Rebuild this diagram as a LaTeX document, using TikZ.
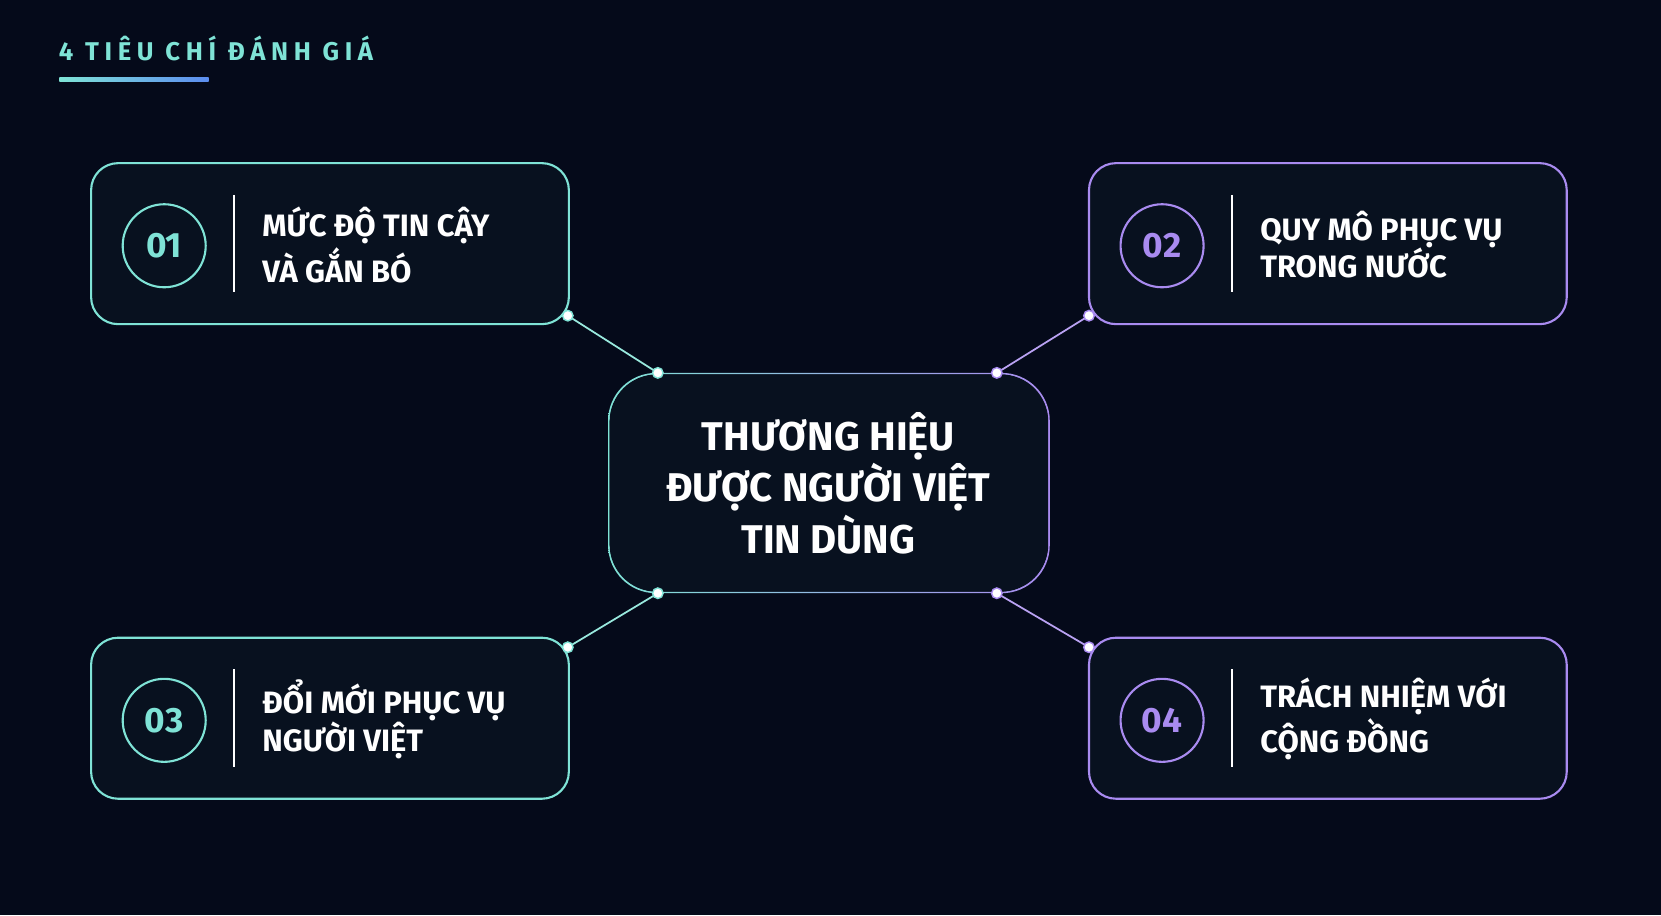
\documentclass[tikz,border=0pt]{standalone}
\usepackage{fontspec}
\setmainfont{Fira Sans}
\newfontfamily\headfont[LetterSpace=22]{Fira Sans}
\usetikzlibrary{positioning}
\definecolor{bgdark}{HTML}{050A1A}
\definecolor{boxfill}{HTML}{08111F}
\definecolor{tealc}{HTML}{7FE3D6}
\definecolor{purpc}{HTML}{A98BF0}
\definecolor{bluec}{HTML}{5C8DF0}
\tikzset{
  card/.style={draw=#1, line width=0.6pt, fill=boxfill, rounded corners=0.27cm},
  numring/.style={draw=#1, line width=0.6pt, circle, minimum size=0.83cm, inner sep=0pt,
    text=#1, font=\bfseries\fontsize{10pt}{11pt}\selectfont},
  cardtext/.style={anchor=west, align=left, text=white, font=\bfseries\fontsize{8.8pt}{10.6pt}\selectfont},
  link/.style={draw=#1!80, line width=0.5pt},
  dot/.style={fill=white, draw=#1, circle, inner sep=0pt, minimum size=3pt}
}
\begin{document}
\begin{tikzpicture}[x=0.010593cm, y=-0.010593cm]
  % background
  \fill[bgdark] (0,0) rectangle (1568,864);
  \useasboundingbox (0,0) rectangle (1568,864);

  % header
  \node[anchor=west, text=tealc, inner sep=0pt, font=\headfont\bfseries\fontsize{7.3pt}{8pt}\selectfont] (title) at (55,46) {4 TIÊU CHÍ ĐÁNH GIÁ};
  \shade[left color=tealc, right color=bluec] (56,73) rectangle (197,77);

  % cards
  \foreach \name/\x/\y/\col/\num/\txt in {
      c1/86/154/tealc/01/{MỨC ĐỘ TIN CẬY\\VÀ GẮN BÓ},
      c2/1028/154/purpc/02/{QUY MÔ PHỤC VỤ\\TRONG NƯỚC},
      c3/86/602/tealc/03/{ĐỔI MỚI PHỤC VỤ\\NGƯỜI VIỆT},
      c4/1028/602/purpc/04/{TRÁCH NHIỆM VỚI\\CỘNG ĐỒNG}} {
    \draw[card=\col] (\x,\y) rectangle ++(451,152);
    \node[numring=\col] (\name-num) at ([shift={(69,78)}]\x,\y) {\num};
    \draw[white!70, line width=0.5pt] ([shift={(135,30)}]\x,\y) -- ++(0,92);
    \node[cardtext] (\name-text) at ([shift={(150,77)}]\x,\y) {\txt};
  }

  % centre
  \shade[left color=tealc, right color=purpc, even odd rule, rounded corners=0.48cm]
    (574,352) rectangle (991,560) (575.5,353.5) rectangle (989.5,558.5);
  \fill[boxfill, rounded corners=0.47cm] (575.5,353.5) rectangle (989.5,558.5);
  \node[align=center, text=white, font=\bfseries\fontsize{11.4pt}{12.6pt}\selectfont] (hub) at (782,456)
    {THƯƠNG HIỆU\\ĐƯỢC NGƯỜI VIỆT\\TIN DÙNG};

  % connectors
  \coordinate (c1-end) at (536,298);
  \coordinate (c2-end) at (1028,298);
  \coordinate (c3-end) at (536,611);
  \coordinate (c4-end) at (1028,611);
  \coordinate (hub-nw) at (621,352);
  \coordinate (hub-ne) at (941,352);
  \coordinate (hub-sw) at (621,560);
  \coordinate (hub-se) at (941,560);
  \draw[link=tealc] (c1-end) -- (hub-nw);
  \draw[link=purpc] (c2-end) -- (hub-ne);
  \draw[link=tealc] (c3-end) -- (hub-sw);
  \draw[link=purpc] (c4-end) -- (hub-se);
  \foreach \p/\col in {c1-end/tealc, hub-nw/tealc, c3-end/tealc, hub-sw/tealc,
                       c2-end/purpc, hub-ne/purpc, c4-end/purpc, hub-se/purpc}
    \node[dot=\col] at (\p) {};
\end{tikzpicture}
\end{document}
